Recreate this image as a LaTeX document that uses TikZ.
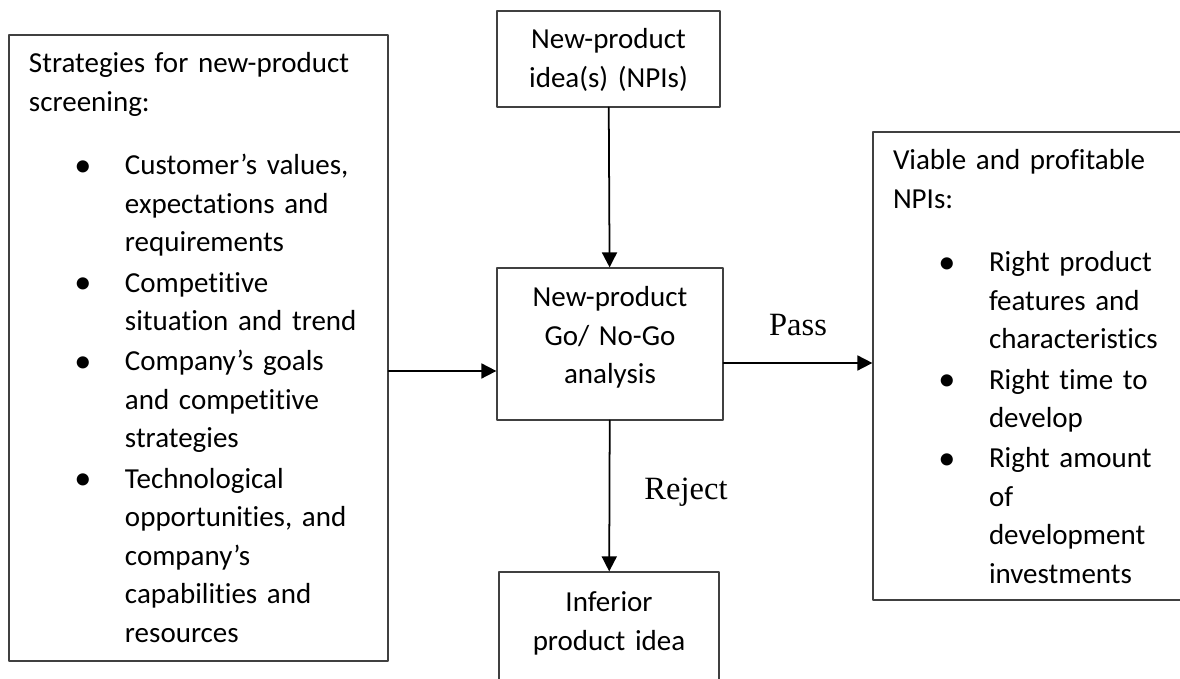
\documentclass[tikz,border=0pt]{standalone}
\usepackage{fontspec}
\setmainfont{Carlito}[Ligatures={TeX,NoCommon}]
\newfontfamily\verdictfont{Liberation Serif}
\usetikzlibrary{arrows.meta}
% one bulleted entry, lines broken by hand
\newcommand{\bitem}[1]{\hspace*{1.08cm}%
  \makebox[0pt]{\raisebox{-0.7pt}{\fontsize{19.5}{19.5}\selectfont\textbullet}}\hspace*{0.84cm}%
  \begin{tabular}[t]{@{}l@{}}#1\end{tabular}}
\begin{document}
\begin{tikzpicture}[line cap=round, line join=round,
    box/.style={draw=black!75, line width=0.7pt, inner xsep=0.4cm, inner ysep=0pt,
      text height=0.76cm, font=\fontsize{16.5}{21.9}\selectfont},
    arr/.style={line width=1pt, -{Triangle[length=0.3cm, width=0.3cm]}},
    verdict/.style={font=\verdictfont\fontsize{18.5}{22}\selectfont, inner sep=0pt}]
  \clip (0,0) rectangle (23.6,-13.58);
  % strategies on the left
  \node[box, text width=6.78cm, text depth=11.76cm, align=left] (lft) at (3.97,-6.96)
    {Strategies for new-product\\screening:\\[0.5cm]%
     \bitem{Customer’s values,\\expectations and\\requirements}\\%
     \bitem{Competitive\\situation and trend}\\%
     \bitem{Company’s goals\\and competitive\\strategies}\\%
     \bitem{Technological\\opportunities, and\\company’s\\capabilities and\\resources}};
  % ideas, analysis, rejected ideas
  \node[box, text width=3.66cm, text depth=1.16cm, align=center] (idea) at (12.17,-1.18)
    {New-product\\idea(s) (NPIs)};
  \node[box, text width=3.72cm, text height=0.78cm, text depth=2.26cm, align=center] (gonogo) at (12.2,-6.88)
    {New-product\\Go/ No-Go\\analysis};
  \node[box, text width=3.6cm, text height=0.8cm, text depth=1.6cm, align=center] (inferior) at (12.18,-12.64)
    {Inferior\\product idea};
  % what passes the screen
  \node[box, text width=5.74cm, text depth=8.6cm, align=left] (viable) at (20.73,-7.32)
    {Viable and profitable\\NPIs:\\[0.5cm]%
     \bitem{Right product\\features and\\characteristics}\\%
     \bitem{Right time to\\develop}\\%
     \bitem{Right amount\\of\\development\\investments}};
  \draw[arr] (idea) -- (gonogo);
  \draw[arr] ([yshift=-0.54cm]gonogo.west -| lft.east) -- ([yshift=-0.54cm]gonogo.west);
  \draw[arr] ([yshift=-0.38cm]gonogo.east) -- ([yshift=-0.38cm]gonogo.east -| viable.west);
  \draw[arr] (gonogo) -- (inferior);
  \node[verdict] (pass) at (15.96,-6.5) {Pass};
  \node[verdict] (reject) at (13.72,-9.84) {Reject};
\end{tikzpicture}
\end{document}
